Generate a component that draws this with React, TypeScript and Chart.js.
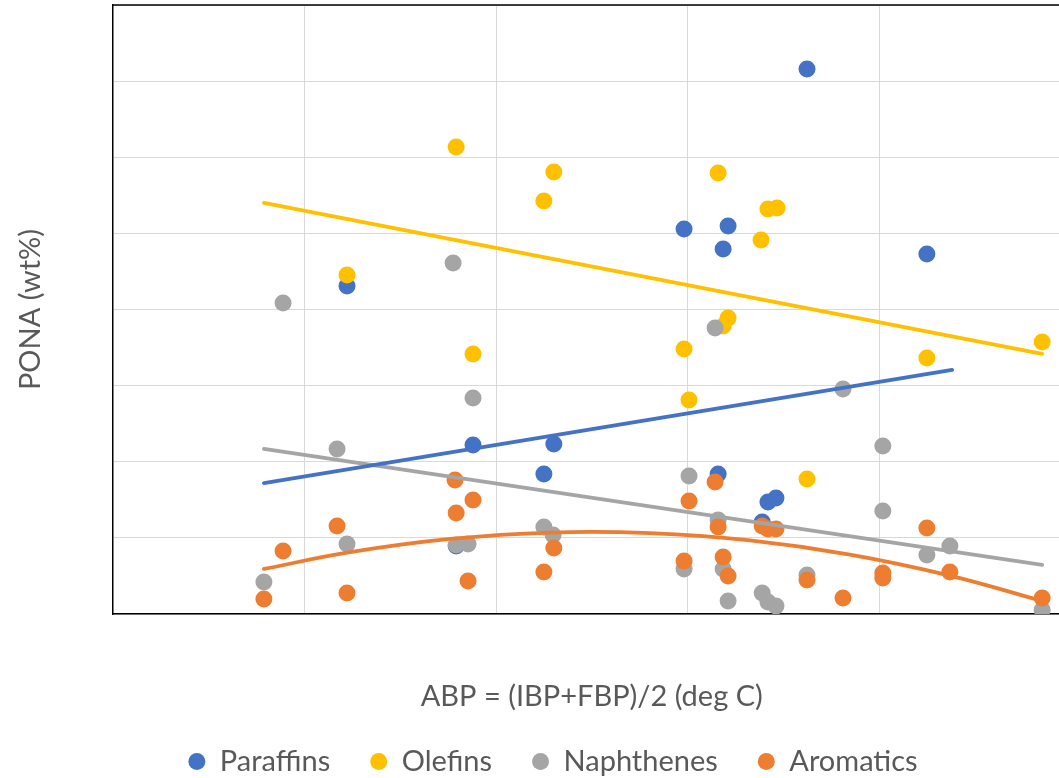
import React, { useEffect, useRef } from "react";
import { Chart, registerables } from "chart.js";

Chart.register(...registerables);

// ---------- data (ABP in deg C, PONA in wt%) ----------
const seriesNames = ["Paraffins", "Olefins", "Naphthenes", "Aromatics"];
const seriesColors = ["#4472C4", "#FFC000", "#A5A5A5", "#ED7D31"];

const paraffinsX = [111.1, 139.6, 144.0, 162.5, 165.1, 199.1, 208.0, 209.3, 210.6, 219.5, 221.0, 223.1, 231.2, 262.5];
const paraffinsY = [21.54, 4.47, 11.10, 9.20, 11.17, 25.29, 9.20, 23.97, 25.48, 6.04, 7.36, 7.62, 35.80, 23.64];

const olefinsX = [111.1, 139.6, 144.0, 162.5, 165.1, 199.1, 200.4, 208.0, 209.3, 210.6, 219.2, 221.0, 223.4, 231.2, 262.5, 292.6];
const olefinsY = [22.27, 30.67, 17.08, 27.13, 29.03, 17.41, 14.06, 28.97, 18.92, 19.44, 24.56, 26.60, 26.67, 8.87, 16.81, 17.87];

const naphthenesX = [89.4, 94.4, 108.5, 111.1, 138.8, 139.6, 142.7, 144.0, 162.5, 164.9, 199.1, 200.4, 207.2, 208.0, 209.3, 210.6, 219.5, 221.0, 223.1, 231.2, 240.6, 251.0, 251.0, 262.5, 268.5, 292.6];
const naphthenesY = [2.10, 20.43, 10.84, 4.60, 23.05, 4.53, 4.60, 14.19, 5.71, 5.19, 2.96, 9.06, 18.78, 6.17, 2.96, 0.85, 1.38, 0.79, 0.53, 2.56, 14.78, 11.03, 6.77, 3.88, 4.47, 0.26];

const aromaticsX = [89.4, 94.4, 108.5, 111.1, 139.3, 139.6, 142.7, 144.0, 162.5, 165.1, 199.1, 200.4, 207.2, 208.0, 209.3, 210.6, 219.5, 221.0, 223.1, 231.2, 240.6, 251.0, 251.0, 262.5, 268.5, 292.6];
const aromaticsY = [0.99, 4.14, 5.78, 1.38, 8.80, 6.63, 2.17, 7.49, 2.76, 4.33, 3.48, 7.42, 8.67, 5.71, 3.74, 2.50, 5.78, 5.58, 5.58, 2.23, 1.05, 2.69, 2.36, 5.65, 2.76, 1.05];

// trendlines
const paraffinsTrendX = [89.4, 269.1];
const paraffinsTrendY = [8.6, 16.03];
const olefinsTrendX = [89.4, 292.6];
const olefinsTrendY = [27.0, 17.08];
const naphthenesTrendX = [89.4, 292.6];
const naphthenesTrendY = [10.84, 3.22];
const aromaticsTrendX = [89.4, 111.9, 138.0, 164.1, 190.2, 216.3, 242.4, 268.5, 292.6];
const aromaticsTrendY = [2.96, 4.06, 4.93, 5.35, 5.31, 4.83, 3.9, 2.52, 0.85];

const xMin = 50;
const xMax = 300;
const xStep = 50;
const yMin = 0;
const yMax = 40;
const yStep = 5;

const xTitle = "ABP = (IBP+FBP)/2 (deg C)";
const yTitle = "PONA (wt%)";

const zip = (xs: number[], ys: number[]) => xs.map((x, i) => ({ x, y: ys[i] }));

const FONT = "Lato";
const FONT_SIZE = 29;
const TEXT_COLOR = "#595959";

const topBorderPlugin = {
  id: "topBorder",
  beforeDatasetsDraw(chart: any) {
    const { ctx, chartArea } = chart;
    ctx.save();
    ctx.strokeStyle = "#000000";
    ctx.lineWidth = 1.5;
    ctx.beginPath();
    ctx.moveTo(chartArea.left, chartArea.top);
    ctx.lineTo(chartArea.right, chartArea.top);
    ctx.stroke();
    ctx.restore();
  },
};

export default function App() {
  const canvasRef = useRef<HTMLCanvasElement | null>(null);

  useEffect(() => {
    if (!canvasRef.current) return;
    const pointSets = [
      zip(paraffinsX, paraffinsY),
      zip(olefinsX, olefinsY),
      zip(naphthenesX, naphthenesY),
      zip(aromaticsX, aromaticsY),
    ];
    const trendSets = [
      zip(paraffinsTrendX, paraffinsTrendY),
      zip(olefinsTrendX, olefinsTrendY),
      zip(naphthenesTrendX, naphthenesTrendY),
      zip(aromaticsTrendX, aromaticsTrendY),
    ];
    const scatterSets = pointSets.map((data, i) => ({
      label: seriesNames[i],
      data,
      backgroundColor: seriesColors[i],
      borderColor: seriesColors[i],
      pointRadius: 8.5,
      pointHoverRadius: 8.5,
      pointBorderWidth: 0,
      showLine: false,
      order: 4 - i + 1,
    }));
    const lineSets = trendSets.map((data, i) => ({
      label: seriesNames[i] + " trend",
      data,
      borderColor: seriesColors[i],
      backgroundColor: seriesColors[i],
      borderWidth: 3.75,
      borderCapStyle: "round" as const,
      pointRadius: 0,
      showLine: true,
      tension: i === 3 ? 0.4 : 0,
      fill: false,
      order: 0,
    }));

    const chart = new Chart(canvasRef.current, {
      type: "scatter",
      data: { datasets: [...scatterSets, ...lineSets] as any },
      plugins: [topBorderPlugin],
      options: {
        animation: false,
        responsive: false,
        maintainAspectRatio: false,
        layout: { autoPadding: false, padding: { top: 5, left: 0, right: 0, bottom: 0 } },
        scales: {
          x: {
            type: "linear",
            min: xMin,
            max: xMax,
            ticks: { display: false, stepSize: xStep },
            grid: { color: "#D9D9D9", lineWidth: 1, drawTicks: false },
            border: { display: true, color: "#000000", width: 1.5 },
            title: {
              display: true,
              text: xTitle,
              color: TEXT_COLOR,
              font: { family: FONT, size: FONT_SIZE },
              padding: { top: 65.6, bottom: -7.4 },
            },
          },
          y: {
            type: "linear",
            min: yMin,
            max: yMax,
            ticks: { display: false, stepSize: yStep },
            grid: { color: "#D9D9D9", lineWidth: 1, drawTicks: false },
            border: { display: true, color: "#000000", width: 1.5 },
            title: {
              display: true,
              text: yTitle,
              color: TEXT_COLOR,
              font: { family: FONT, size: FONT_SIZE },
              padding: { top: 13.6, bottom: 64.6 },
            },
          },
          yRight: {
            type: "linear",
            position: "right",
            display: true,
            min: yMin,
            max: yMax,
            ticks: { display: false },
            grid: { display: false, drawTicks: false },
            border: { display: false },
            afterFit: (scale: any) => {
              scale.width = 35.5;
            },
          },
        },
        plugins: {
          tooltip: { enabled: false },
          legend: {
            display: true,
            position: "bottom",
            labels: {
              usePointStyle: true,
              pointStyle: "circle",
              boxWidth: 17,
              boxHeight: 12,
              pointStyleWidth: 17,
              padding: 40,
              color: TEXT_COLOR,
              font: { family: FONT, size: FONT_SIZE },
              filter: (item: any) => item.datasetIndex < 4,
              sort: (a: any, b: any) => a.datasetIndex - b.datasetIndex,
            },
          },
        },
      } as any,
    });
    return () => chart.destroy();
  }, []);

  return (
    <div style={{ position: "fixed", left: 0, top: 0, width: 1106, height: 786, background: "#fff" }}>
      <canvas ref={canvasRef} width={1106} height={786} style={{ display: "block" }} />
    </div>
  );
}
